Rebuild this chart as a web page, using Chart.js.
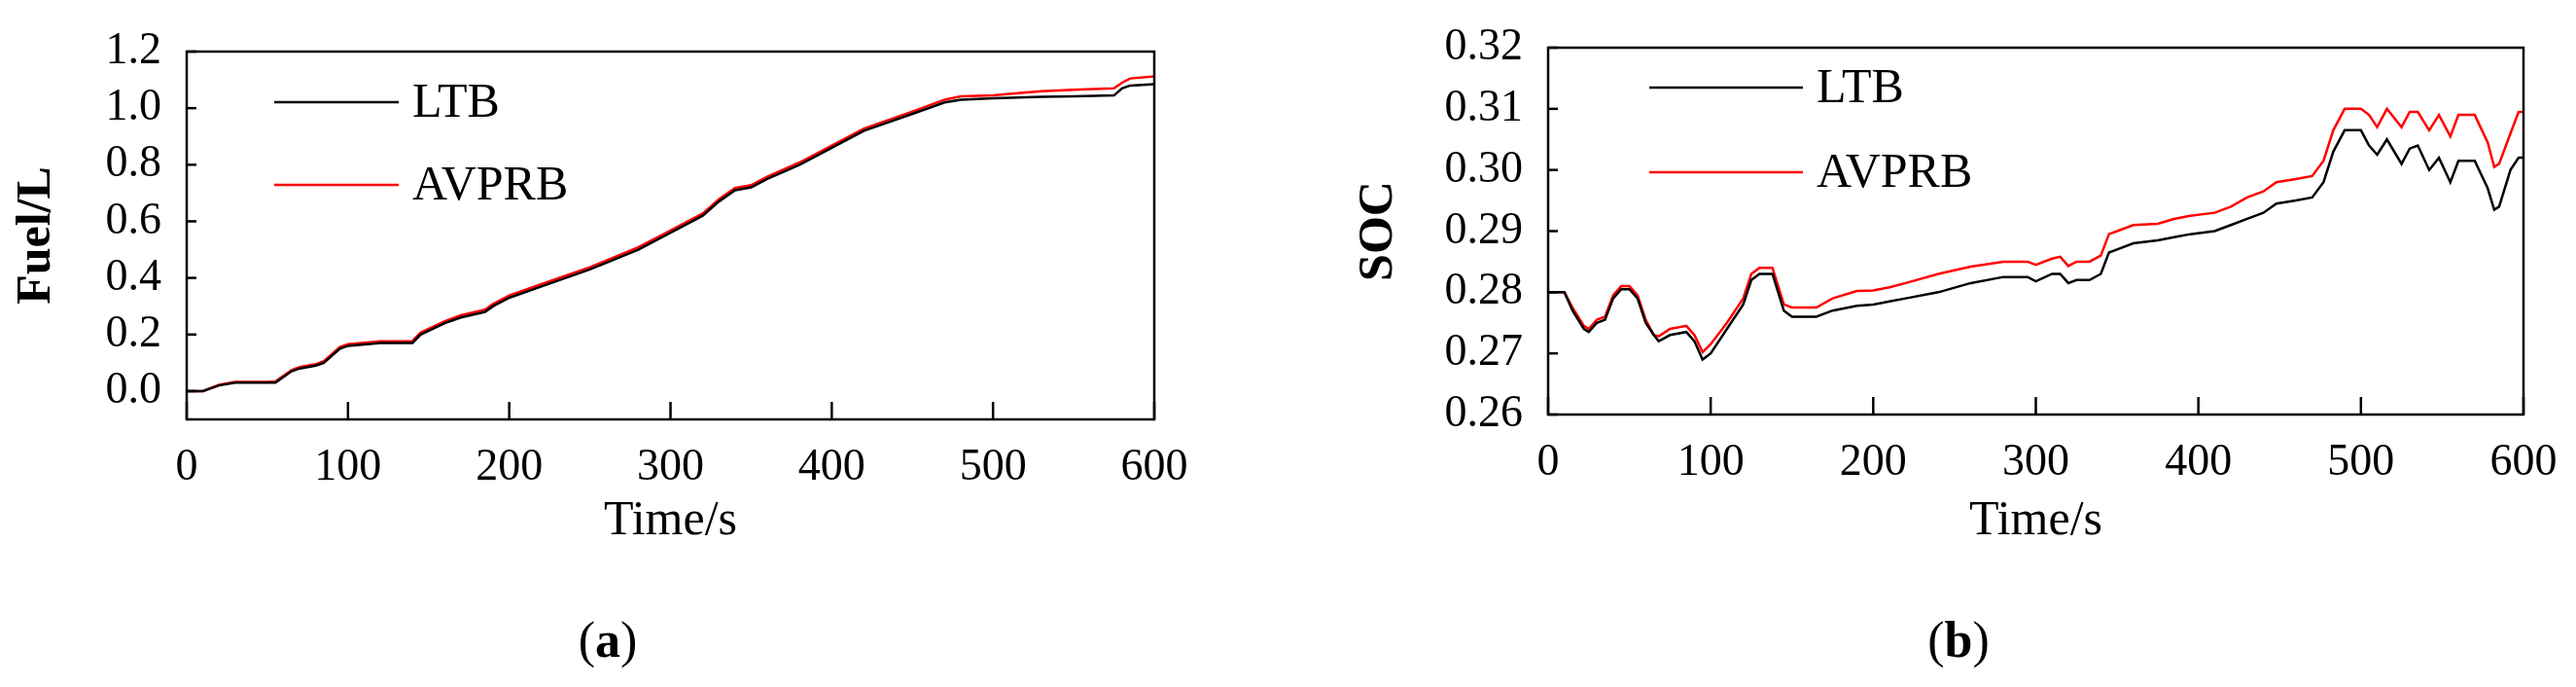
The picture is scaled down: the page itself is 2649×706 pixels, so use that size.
<!DOCTYPE html>
<html><head><meta charset="utf-8">
<script src="https://cdn.jsdelivr.net/npm/chart.js@4/dist/chart.umd.min.js"></script>
<style>
body{margin:0;background:#fff;width:2649px;height:706px;position:relative;overflow:hidden;font-family:"Liberation Serif",serif}
.c{position:absolute;top:0;height:600px}
.cap{position:absolute;top:628px;font-size:52px;font-family:"Liberation Serif",serif;transform:translateX(-50%)}
</style></head><body>
<div class="c" style="left:0;width:1250px"><canvas id="a"></canvas></div>
<div class="c" style="left:1300px;width:1349px"><canvas id="b"></canvas></div>
<div class="cap" style="left:625px">(<b>a</b>)</div>
<div class="cap" style="left:2014px">(<b>b</b>)</div>
<script>
const seriesNames=["LTB","AVPRB"];
const xTicks=[0,100,200,300,400,500,600];
const fuelT=[0,10,20,30,50,55,65,70,80,85,95,100,120,140,145,160,170,185,190,200,220,250,280,300,320,330,340,350,360,380,400,420,450,470,480,500,510,530,550,575,580,585,600];
const fuelLTB=[0,0,0.02,0.03,0.03,0.03,0.07,0.08,0.09,0.1,0.15,0.16,0.17,0.17,0.2,0.24,0.26,0.28,0.3,0.33,0.37,0.43,0.5,0.56,0.62,0.67,0.71,0.72,0.75,0.8,0.86,0.92,0.98,1.02,1.03,1.035,1.037,1.04,1.042,1.045,1.07,1.08,1.085];
const fuelAVPRB=[0,0,0.022,0.032,0.033,0.034,0.074,0.085,0.095,0.106,0.156,0.166,0.176,0.177,0.207,0.247,0.268,0.288,0.308,0.338,0.378,0.438,0.508,0.568,0.628,0.678,0.718,0.728,0.758,0.808,0.868,0.928,0.988,1.03,1.042,1.045,1.05,1.06,1.065,1.07,1.09,1.105,1.112];
const socT=[0,10,15,22,25,30,35,40,45,50,55,60,65,68,75,85,90,95,100,110,120,125,130,138,145,150,165,175,190,200,210,220,240,260,280,295,300,310,315,320,325,333,340,345,350,360,375,385,395,410,420,430,440,448,460,470,477,483,490,500,505,510,516,525,530,535,542,548,555,560,570,578,582,585,592,597,600];
const socLTB=[0.28,0.28,0.277,0.274,0.2735,0.275,0.2755,0.279,0.2805,0.2805,0.279,0.275,0.273,0.272,0.273,0.2735,0.272,0.269,0.270,0.274,0.278,0.282,0.283,0.283,0.277,0.276,0.276,0.277,0.2778,0.278,0.2785,0.279,0.280,0.2815,0.2825,0.2825,0.2818,0.283,0.283,0.2815,0.282,0.282,0.283,0.2865,0.287,0.288,0.2885,0.289,0.2895,0.290,0.291,0.292,0.293,0.2945,0.295,0.2955,0.298,0.303,0.3065,0.3065,0.304,0.3025,0.305,0.301,0.3035,0.304,0.300,0.302,0.298,0.3015,0.3015,0.297,0.2935,0.294,0.300,0.302,0.302];
const socAVPRB=[0.28,0.28,0.2775,0.2745,0.274,0.2755,0.276,0.2795,0.281,0.281,0.2795,0.2755,0.273,0.2728,0.274,0.2745,0.273,0.2702,0.2715,0.275,0.279,0.283,0.284,0.284,0.278,0.2775,0.2775,0.279,0.2802,0.2803,0.2808,0.2815,0.283,0.2842,0.285,0.285,0.2845,0.2855,0.2858,0.2843,0.285,0.285,0.286,0.2895,0.290,0.291,0.2912,0.292,0.2925,0.293,0.294,0.2955,0.2965,0.298,0.2985,0.299,0.3015,0.3065,0.310,0.310,0.309,0.307,0.310,0.307,0.3095,0.3095,0.3065,0.309,0.3055,0.309,0.309,0.3045,0.3005,0.301,0.306,0.3095,0.3095];
const fuelTicks=[0,0.2,0.4,0.6,0.8,1.0,1.2];
const socTicks=[0.26,0.27,0.28,0.29,0.30,0.31,0.32];

const F='"Liberation Serif", serif';
const colors=['#000000','#ff0000'];
function pts(t,v){return t.map((x,i)=>({x:x,y:v[i]}));}

function make(id,t,l1,l2,ymin,ymax,yt,dec,ytitle,o){
  const boxPlugin={id:'box'+id,afterDraw(ch){
    const c=ch.ctx,a=ch.chartArea;
    c.save();c.strokeStyle='#000';c.lineWidth=2.5;c.strokeRect(a.left,a.top,a.right-a.left,a.bottom-a.top);
    c.lineWidth=2.5;
    const xs=ch.scales.x,ys=ch.scales.y;
    xTicks.forEach(v=>{const px=xs.getPixelForValue(v);c.beginPath();c.moveTo(px,a.bottom);c.lineTo(px,a.bottom-18);c.stroke();});
    yt.forEach(v=>{const py=ys.getPixelForValue(v);c.beginPath();c.moveTo(a.left,py);c.lineTo(a.left+10,py);c.stroke();});
    // legend
    c.font='50px '+F;c.textBaseline='middle';c.fillStyle='#000';
    seriesNames.forEach((n,i)=>{const y=o.legY[i];c.strokeStyle=colors[i];c.lineWidth=2.5;c.beginPath();c.moveTo(o.legX[0],y);c.lineTo(o.legX[1],y);c.stroke();c.fillText(n,o.legX[1]+14,y+2);});
    c.restore();
  }};
  return new Chart(document.getElementById(id),{
    type:'line',
    data:{datasets:[
      {label:seriesNames[0],data:pts(t,l1),borderColor:colors[0],borderWidth:2.5,pointRadius:0,tension:0},
      {label:seriesNames[1],data:pts(t,l2),borderColor:colors[1],borderWidth:2.5,pointRadius:0,tension:0}]},
    options:{responsive:true,maintainAspectRatio:false,animation:false,
      layout:{padding:{top:o.top,right:o.right,left:0,bottom:0}},
      plugins:{legend:{display:false},tooltip:{enabled:false}},
      scales:{
        x:{type:'linear',min:0,max:600,grid:{display:false},border:{display:false},
          afterBuildTicks(s){s.ticks=xTicks.map(v=>({value:v}));},
          afterFit(s){s.height=o.xh;},
          ticks:{color:'#000',font:{family:F,size:46},padding:14,maxRotation:0,autoSkip:false},
          title:{display:true,text:'Time/s',color:'#000',font:{family:F,size:50},padding:{top:0,bottom:o.xtp}}},
        y:{min:ymin,max:ymax,grid:{display:false},border:{display:false},
          afterBuildTicks(s){s.ticks=yt.map(v=>({value:v}));},
          afterFit(s){s.width=o.yw;},
          ticks:{color:'#000',font:{family:F,size:46},padding:18,callback:v=>v.toFixed(dec)},
          title:{display:true,text:ytitle,color:'#000',font:{family:F,size:50,weight:'bold'},padding:{top:o.ytp,bottom:0}}}
      }},
    plugins:[boxPlugin]});
}
make('a',fuelT,fuelLTB,fuelAVPRB,-0.1,1.2,fuelTicks,1,'Fuel/L',{top:53,right:63,xh:169,yw:192,xtp:34,ytp:8,legX:[282,410],legY:[105,190]});
make('b',socT,socLTB,socAVPRB,0.26,0.32,socTicks,2,'SOC',{top:49,right:54,xh:174,yw:292,xtp:34,ytp:88,legX:[396,554],legY:[90,177]});
</script></body></html>
